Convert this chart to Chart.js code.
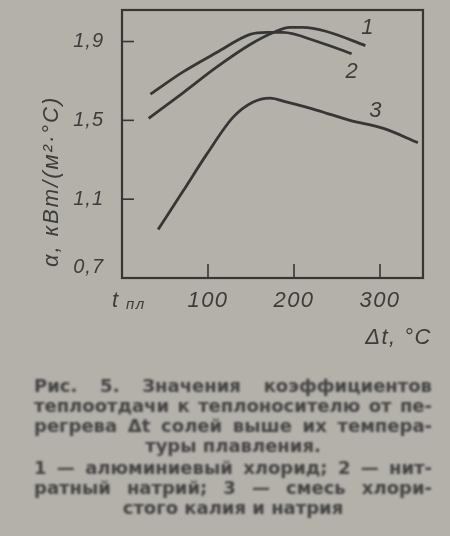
<!DOCTYPE html>
<html>
<head>
<meta charset="utf-8">
<script src="https://cdn.jsdelivr.net/npm/chart.js@4/dist/chart.umd.min.js"></script>
<style>
  html, body { margin:0; padding:0; background:#b4b1ab; }
  body { width:450px; height:536px; overflow:hidden; }
  #wrap { position:relative; width:450px; height:362px; }
  #cap { position:absolute; top:376px; left:34px; width:398px; color:#444442;
         font-family:"DejaVu Sans", sans-serif;
         font-weight:bold; font-size:18px; line-height:20px; filter:blur(0.9px); }
  #cap div { white-space:nowrap; }
  #cap .j { text-align:justify; text-align-last:justify; }
  #cap .c { text-align:center; }
</style>
</head>
<body>
<div id="wrap"><canvas id="c" width="450" height="362"></canvas></div>
<div id="cap">
  <div class="j">Рис. 5. Значения коэффициентов</div>
  <div class="j">теплоотдачи к теплоносителю от пе-</div>
  <div class="j">регрева Δt солей выше их темпера-</div>
  <div class="c">туры плавления.</div>
  <div class="j" style="margin-top:2px">1 — алюминиевый хлорид; 2 — нит-</div>
  <div class="j">ратный натрий; 3 — смесь хлори-</div>
  <div class="c">стого калия и натрия</div>
</div>
<script>
// ---- data ----
const seriesNames = ["1", "2", "3"];
const dt1 = [31, 71, 110, 149, 176, 195, 210, 238, 283];
const alpha1 = [1.51, 1.64, 1.77, 1.885, 1.946, 1.972, 1.972, 1.951, 1.879];
const dt2 = [33, 71, 110, 149, 169, 187, 227, 267];
const alpha2 = [1.633, 1.746, 1.844, 1.936, 1.946, 1.946, 1.90, 1.838];
const dt3 = [42, 71, 99, 129, 152, 172, 192, 227, 265, 304, 344];
const alpha3 = [0.946, 1.141, 1.331, 1.515, 1.592, 1.613, 1.592, 1.551, 1.50, 1.459, 1.387];
const xTicks = [0, 100, 200, 300];
const xTickLabels = ["t", "100", "200", "300"];
const yTicks = [0.7, 1.1, 1.5, 1.9];
const yTickLabels = ["0,7", "1,1", "1,5", "1,9"];
const xTitle = "Δt, °C";
const yTitle = "α, кВт/(м²·°С)";

const INK = "#363634";
const TXT = "#3c3c3a";
const FONT = "'Liberation Sans', sans-serif";

function pts(xs, ys) { return xs.map((x, i) => ({ x: x, y: ys[i] })); }

const labelOffsets = [[2, -18], [0, 18], [-8, -18]];
const labelAnchor = [dt1.length - 1, dt2.length - 1, dt3.length - 2];

const decor = {
  id: "decor",
  afterDraw(chart) {
    const ctx = chart.ctx, a = chart.chartArea;
    const xs = chart.scales.x, ys = chart.scales.y;
    ctx.save();
    ctx.strokeStyle = INK;
    ctx.lineWidth = 2.2;
    ctx.strokeRect(a.left, a.top, a.right - a.left, a.bottom - a.top);
    // inward ticks
    ctx.lineWidth = 1.6;
    yTicks.forEach(v => {
      if (v === ys.min) return;
      const py = ys.getPixelForValue(v);
      ctx.beginPath(); ctx.moveTo(a.left, py); ctx.lineTo(a.left + 12, py); ctx.stroke();
    });
    xTicks.forEach(v => {
      if (v === xs.min) return;
      const px = xs.getPixelForValue(v);
      ctx.beginPath(); ctx.moveTo(px, a.bottom); ctx.lineTo(px, a.bottom - 14); ctx.stroke();
    });
    // tick labels
    ctx.fillStyle = TXT;
    ctx.font = "italic 20px " + FONT;
    ctx.letterSpacing = "1px";
    ctx.textAlign = "right"; ctx.textBaseline = "middle";
    yTicks.forEach((v, i) => {
      let py = ys.getPixelForValue(v);
      if (v === ys.min) py -= 11;
      ctx.fillText(yTickLabels[i], a.left - 18, py);
    });
    ctx.textAlign = "center";
    ctx.font = "italic 22px " + FONT;
    ctx.letterSpacing = "1.5px";
    xTicks.forEach((v, i) => {
      const px = xs.getPixelForValue(v);
      if (i === 0) {
        ctx.textAlign = "left";
        ctx.fillText(xTickLabels[i], px - 10, a.bottom + 23);
        ctx.font = "italic 15px " + FONT;
        ctx.fillText("пл", px + 4, a.bottom + 27);
        ctx.font = "italic 22px " + FONT;
        ctx.textAlign = "center";
      } else {
        ctx.fillText(xTickLabels[i], px, a.bottom + 23);
      }
    });
    // axis titles
    ctx.font = "italic 22px " + FONT;
    ctx.textAlign = "right";
    ctx.fillText(xTitle, a.right + 9, a.bottom + 60);
    ctx.save();
    ctx.translate(a.left - 70, ys.getPixelForValue(1.19));
    ctx.rotate(-Math.PI / 2);
    ctx.textAlign = "center";
    ctx.letterSpacing = "2px";
    ctx.fillText(yTitle, 0, 0);
    ctx.restore();
    // curve labels
    ctx.font = "italic 22px " + FONT;
    ctx.letterSpacing = "0px";
    ctx.textAlign = "center";
    chart.data.datasets.forEach((ds, i) => {
      const p = chart.getDatasetMeta(i).data[labelAnchor[i]];
      ctx.fillText(seriesNames[i], p.x + labelOffsets[i][0], p.y + labelOffsets[i][1]);
    });
    ctx.restore();
  }
};

const mk = (name, xs, ys) => ({
  label: name, data: pts(xs, ys), showLine: true, pointRadius: 0,
  borderColor: INK, borderWidth: 2.8, cubicInterpolationMode: "monotone", fill: false
});

new Chart(document.getElementById("c"), {
  type: "scatter",
  data: { datasets: [mk(seriesNames[0], dt1, alpha1), mk(seriesNames[1], dt2, alpha2), mk(seriesNames[2], dt3, alpha3)] },
  options: {
    responsive: false, animation: false, devicePixelRatio: 1,
    layout: { padding: { top: 10, right: 27, left: 0, bottom: 0 } },
    plugins: { legend: { display: false }, tooltip: { enabled: false } },
    scales: {
      x: { type: "linear", min: 0, max: 350, grid: { display: false }, border: { display: false },
           ticks: { display: false }, afterFit: s => { s.height = 84; } },
      y: { type: "linear", min: 0.7, max: 2.06, grid: { display: false }, border: { display: false },
           ticks: { display: false }, afterFit: s => { s.width = 122; } }
    }
  },
  plugins: [decor]
});
</script>
</body>
</html>
